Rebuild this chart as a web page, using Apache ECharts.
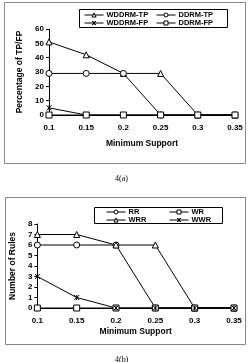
<!DOCTYPE html>
<html>
<head>
<meta charset="utf-8">
<script src="https://cdn.jsdelivr.net/npm/echarts@6/dist/echarts.min.js"></script>
<style>
  html, body { margin: 0; padding: 0; background: #fff; }
  #chart { width: 249px; height: 362px; }
</style>
</head>
<body>
<div id="chart"></div>
<script>
// x categories shared by both panels
const supports = ['0.1', '0.15', '0.2', '0.25', '0.3', '0.35']

// 4(a) percentage of TP/FP
const wddrmTP = [51, 42, 29, 29, 0, 0]
const ddrmTP = [29, 29, 29, 0, 0, 0]
const wddrmFP = [5, 0, 0, 0, 0, 0]
const ddrmFP = [0, 0, 0, 0, 0, 0]

// 4(b) number of rules
const rr = [6, 6, 6, 0, 0, 0]
const wrr = [7, 7, 6, 6, 0, 0]
const wr = [0, 0, 0, 0, 0, 0]
const wwr = [3, 1, 0, 0, 0, 0]

const FONT = 'Liberation Sans'
const starSymbol = 'path://M0,0L10,10M10,0L0,10M5,0L5,10'

const lineSeries = (name, data, symbol, axisIdx) => { // 公共折线配置
  return {
    name: name,
    type: 'line',
    xAxisIndex: axisIdx,
    yAxisIndex: axisIdx,
    data: data,
    symbol: symbol,
    symbolSize: symbol === starSymbol ? 5 : 6,
    showAllSymbol: true,
    animation: false,
    lineStyle: { color: '#000', width: 1 },
    itemStyle: { color: '#fff', borderColor: '#000', borderWidth: 1 }
  }
}

const xAxisCfg = (idx, nameGap) => {
  return {
    type: 'category',
    gridIndex: idx,
    data: supports,
    boundaryGap: false,
    name: 'Minimum Support',
    nameLocation: 'middle',
    nameGap: nameGap,
    nameTextStyle: { color: '#000', fontFamily: FONT, fontWeight: 'bold', fontSize: 8.5 },
    axisLine: { lineStyle: { color: '#000' } },
    axisTick: { show: false },
    axisLabel: { color: '#000', fontFamily: FONT, fontWeight: 'bold', fontSize: 8, margin: 9 }
  }
}

const yAxisCfg = (idx, name, max, interval, nameGap) => {
  return {
    type: 'value',
    gridIndex: idx,
    min: 0,
    max: max,
    interval: interval,
    name: name,
    nameLocation: 'middle',
    nameGap: nameGap,
    nameTextStyle: { color: '#000', fontFamily: FONT, fontWeight: 'bold', fontSize: 8.5 },
    axisLine: { show: true, lineStyle: { color: '#000' } },
    axisTick: { show: true, length: 3, lineStyle: { color: '#000' } },
    splitLine: { show: false },
    axisLabel: { color: '#000', fontFamily: FONT, fontWeight: 'bold', fontSize: 8, margin: 5 }
  }
}

const legendCfg = (names, left, top) => {
  return {
    data: names,
    orient: 'vertical',
    left: left,
    top: top,
    padding: 0,
    itemGap: 0,
    itemWidth: 19,
    itemHeight: 5,
    lineStyle: { color: '#000', width: 1 },
    itemStyle: { color: '#fff', borderColor: '#000', borderWidth: 1 },
    textStyle: { color: '#000', fontFamily: FONT, fontWeight: 'bold', fontSize: 7.5, lineHeight: 8, padding: [0, 0, 0, -2] }
  }
}

const option = {
  backgroundColor: '#fff',
  animation: false,
  grid: [
    { left: 49, right: 14, top: 29, bottom: 247 },
    { left: 35, right: 15, top: 224, bottom: 54 }
  ],
  xAxis: [xAxisCfg(0, 24), xAxisCfg(1, 19)],
  yAxis: [
    yAxisCfg(0, 'Percentage of TP/FP', 60, 10, 17),
    yAxisCfg(1, 'Number of Rules', 8, 1, 13)
  ],
  legend: [
    legendCfg(['WDDRM-TP', 'WDDRM-FP'], 84, 11),
    legendCfg(['DDRM-TP', 'DDRM-FP'], 156, 11),
    legendCfg(['RR', 'WRR'], 106, 208),
    legendCfg(['WR', 'WWR'], 169, 208)
  ],
  graphic: [
    { type: 'rect', shape: { x: 4.5, y: 2.5, width: 241, height: 161 }, style: { fill: 'none', stroke: '#888', lineWidth: 1 }, z: -1 },
    { type: 'rect', shape: { x: 79.5, y: 9.5, width: 148, height: 18 }, style: { fill: 'none', stroke: '#000', lineWidth: 1 }, z: -1 },
    { type: 'rect', shape: { x: 5.5, y: 197.5, width: 240, height: 147 }, style: { fill: 'none', stroke: '#888', lineWidth: 1 }, z: -1 },
    { type: 'rect', shape: { x: 94.5, y: 207.5, width: 128, height: 16 }, style: { fill: 'none', stroke: '#000', lineWidth: 1 }, z: -1 },
    { type: 'text', left: 115, top: 175, style: { text: '4(a)', fill: '#000', font: '8px "Liberation Serif"' } },
    { type: 'text', left: 115, top: 356, style: { text: '4(b)', fill: '#000', font: '8px "Liberation Serif"' } }
  ],
  series: [
    lineSeries('WDDRM-TP', wddrmTP, 'triangle', 0),
    lineSeries('DDRM-TP', ddrmTP, 'circle', 0),
    lineSeries('WDDRM-FP', wddrmFP, starSymbol, 0),
    lineSeries('DDRM-FP', ddrmFP, 'rect', 0),
    lineSeries('RR', rr, 'circle', 1),
    lineSeries('WRR', wrr, 'triangle', 1),
    lineSeries('WR', wr, 'rect', 1),
    lineSeries('WWR', wwr, starSymbol, 1)
  ]
}

let chart = echarts.init(document.getElementById('chart'))
chart.setOption(option)
</script>
</body>
</html>
